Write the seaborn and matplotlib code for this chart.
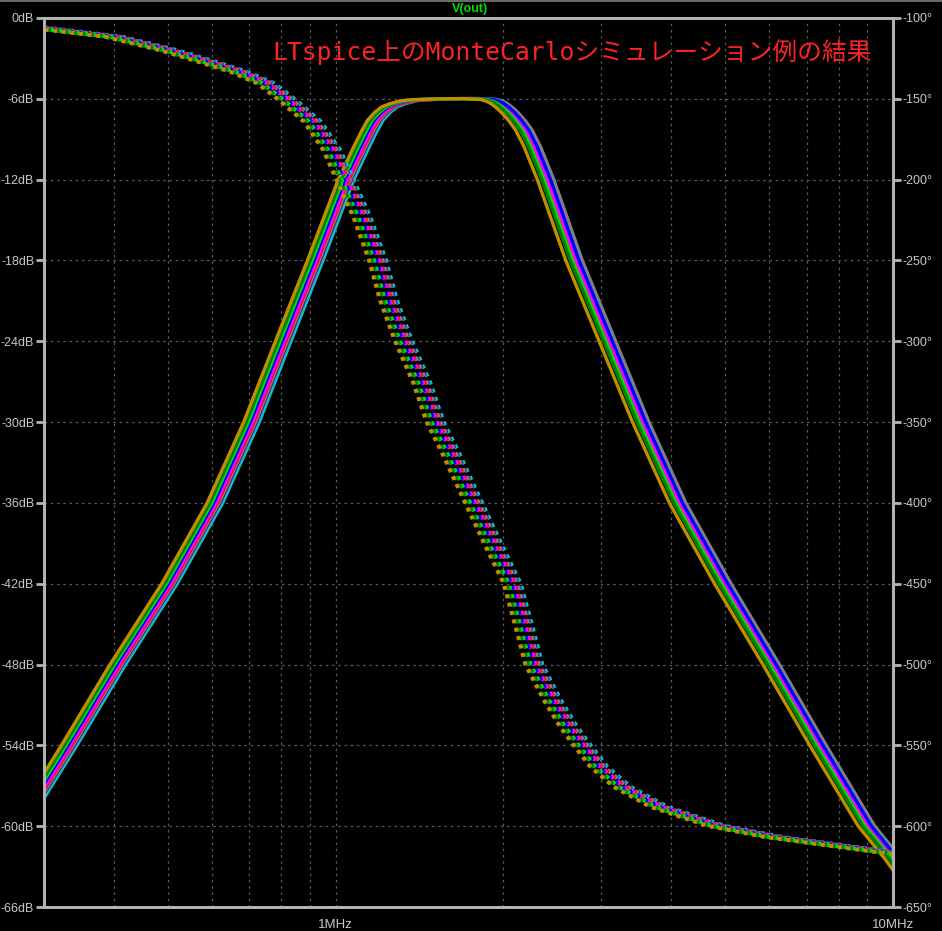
import numpy as np
import pandas as pd
import matplotlib
matplotlib.use("Agg")
import matplotlib.pyplot as plt
from matplotlib.lines import Line2D
import seaborn as sns

# ---------------- data ----------------
# magnitude of the nominal run, frequency in MHz
mag_freq_mhz = [0.28, 0.297, 0.333, 0.407, 0.504, 0.608, 0.707, 0.806, 0.92,
                1.045, 1.114, 1.15, 1.18, 1.215, 1.25, 1.298, 1.35, 1.40, 1.45,
                1.6, 1.75, 1.884, 1.93, 1.965, 2.01, 2.062, 2.12, 2.178, 2.255,
                2.383, 2.68, 3.076, 3.53, 4.11, 4.954, 6.05, 7.34, 8.97, 10.0,
                10.5]
mag_db = [-59.0, -57.3, -54.0, -48.0, -42.0, -36.0, -30.0, -24.0, -18.0,
          -12.0, -9.55, -8.4, -7.57, -7.0, -6.6, -6.34, -6.15, -6.08, -6.05,
          -6.0, -5.98, -6.05, -6.18, -6.34, -6.65, -7.08, -7.65, -8.32, -9.55,
          -12.0, -18.0, -24.0, -30.0, -36.0, -42.0, -48.0, -54.0, -60.0,
          -62.4, -63.6]

# phase of the nominal run (right axis, degrees)
phase_freq_mhz = [0.28, 0.2985, 0.40, 0.50, 0.60, 0.67, 0.75, 0.82, 0.91,
                  0.985, 1.04, 1.115, 1.19, 1.245, 1.325, 1.43, 1.51, 1.60,
                  1.77, 1.94, 2.075, 2.18, 2.27, 2.45, 2.62, 2.77, 2.97, 3.27,
                  3.81, 4.82, 6.09, 7.81, 9.61, 10.0, 10.5]
phase_deg = [-105.3, -106.4, -111.6, -119.8, -128.0, -133.2, -140.4, -150.7,
             -164.2, -181.7, -199.8, -223.0, -249.8, -274.5, -299.9, -326.0,
             -350.0, -367.3, -400.0, -429.2, -449.8, -476.7, -500.0, -522.0,
             -538.5, -549.9, -563.3, -575.7, -588.1, -599.8, -606.6, -611.7,
             -615.9, -616.5, -617.2]

# Monte Carlo runs: colour and frequency offsets (%) read from the spread
run_names = ["run1", "run2", "run3", "run4", "run5", "run6", "run7", "run8", "run9"]
run_colors = ["#00c8c8", "#800080", "#808080", "#ff0000", "#ff00ff",
              "#0000ff", "#00e000", "#008000", "#bf8f00"]
low_shift_pct = [3.2, 2.1, 1.6, 1.0, 0.5, -0.5, -1.3, -2.1, -3.2]
high_shift_pct = [3.0, 1.4, 3.4, 0.0, 0.7, 2.0, -0.7, -1.6, -3.4]
phase_shift_pct = [3.5, 2.5, 2.0, 1.0, 0.5, -0.5, -1.5, -2.5, -3.5]
edge_split_mhz = 1.6

# tick labels
db_ticks = list(range(-66, 1, 6))
deg_ticks = list(range(-650, -99, 50))
x_major = [1.0, 10.0]
x_major_labels = ["1MHz", "10MHz"]
x_minor = [0.3, 0.4, 0.5, 0.6, 0.7, 0.8, 0.9, 2, 3, 4, 5, 6, 7, 8, 9]

title_text = "LTspice上のMonteCarloシミュレーション例の結果"
trace_name = "V(out)"

# ---------------- build long-form tables ----------------
mf = np.array(mag_freq_mhz)
pf = np.array(phase_freq_mhz)
rows_m, rows_p = [], []
for name, lo, hi, ps in zip(run_names, low_shift_pct, high_shift_pct, phase_shift_pct):
    f_run = np.where(mf < edge_split_mhz, mf * (1 + lo / 100), mf * (1 + hi / 100))
    for f, v in zip(f_run, mag_db):
        rows_m.append((name, f, v))
    fp = pf * (1 + ps / 100)
    for f, v in zip(fp, phase_deg):
        rows_p.append((name, f, v))
df_mag = pd.DataFrame(rows_m, columns=["run", "freq", "db"])
df_ph = pd.DataFrame(rows_p, columns=["run", "freq", "deg"])

# ---------------- figure ----------------
sns.set_style("dark")
plt.rcParams["font.family"] = ["Liberation Sans", "DejaVu Sans"]

W, H = 942, 931
fig = plt.figure(figsize=(W / 100, H / 100), dpi=100, facecolor="black")
L, R, T, B = 44, 893, 18, 907
ax = fig.add_axes([L / W, 1 - B / H, (R - L) / W, (B - T) / H])
ax.set_facecolor("black")
ax2 = ax.twinx()

palette = dict(zip(run_names, run_colors))
sns.lineplot(data=df_mag, x="freq", y="db", hue="run", hue_order=run_names,
             palette=palette, estimator=None, sort=False, legend=False,
             lw=2.4, ax=ax)
sns.lineplot(data=df_ph, x="freq", y="deg", hue="run", hue_order=run_names,
             palette=palette, estimator=None, sort=False, legend=False,
             lw=2.9, ax=ax2)
for ln in ax2.lines:
    ln.set_dashes((1, 1.15))
    ln.set_dash_capstyle("butt")

for a in (ax, ax2):
    a.set_xscale("log")
    a.set_xlim(0.3, 10.0)
ax.set_ylim(-66, 0)
ax2.set_ylim(-650, -100)

ax.set_xticks(x_major)
ax.set_xticklabels(x_major_labels)
ax.set_xticks(x_minor, minor=True)
ax.set_xticklabels([], minor=True)
ax.set_yticks(db_ticks)
ax.set_yticklabels([f"{v}dB" for v in db_ticks])
ax2.set_yticks(deg_ticks)
ax2.set_yticklabels([f"{v}°" for v in deg_ticks])
ax.set_xlabel("")
ax.set_ylabel("")
ax2.set_ylabel("")

axis_col = "#b4b4b4"
label_col = "#c8c8c8"
grid_col = "#5a5a5a"
for a in (ax, ax2):
    for s in a.spines.values():
        s.set_color(axis_col)
        s.set_linewidth(2.0)
        s.set_visible(True)
    a.tick_params(axis="both", which="both", colors=axis_col,
                  labelcolor=label_col, labelsize=9, width=2.0)
ax.tick_params(axis="y", direction="out", length=6, pad=1)
ax2.tick_params(axis="y", direction="out", length=6, pad=1)
ax.tick_params(axis="x", which="major", direction="out", length=7, pad=2,
               labelsize=9.5)
ax.tick_params(axis="x", which="minor", direction="out", length=4)

ax.grid(True, which="both", axis="x", color=grid_col, lw=0.9, ls=(0, (2, 3)))
ax.grid(True, which="major", axis="y", color=grid_col, lw=0.9, ls=(0, (2, 3)))
ax2.grid(False)
ax.set_axisbelow(True)

# texts
fig.text(470 / W, 1 - 9 / H, trace_name, color="#00dd00", fontsize=9,
         fontweight="bold", ha="center", va="center",
         family=["Liberation Sans", "DejaVu Sans"])
fig.text(272 / W, 1 - 52 / H, title_text, color="#ff2222", fontsize=17.8,
         ha="left", va="center",
         family=["DejaVu Sans Mono", "Noto Sans CJK JP"])

fig.add_artist(Line2D([0, 1], [1 - 0.6 / H] * 2, color="#808080", lw=1.2,
                      transform=fig.transFigure))

fig.savefig("out.png", dpi=100, facecolor="black")
